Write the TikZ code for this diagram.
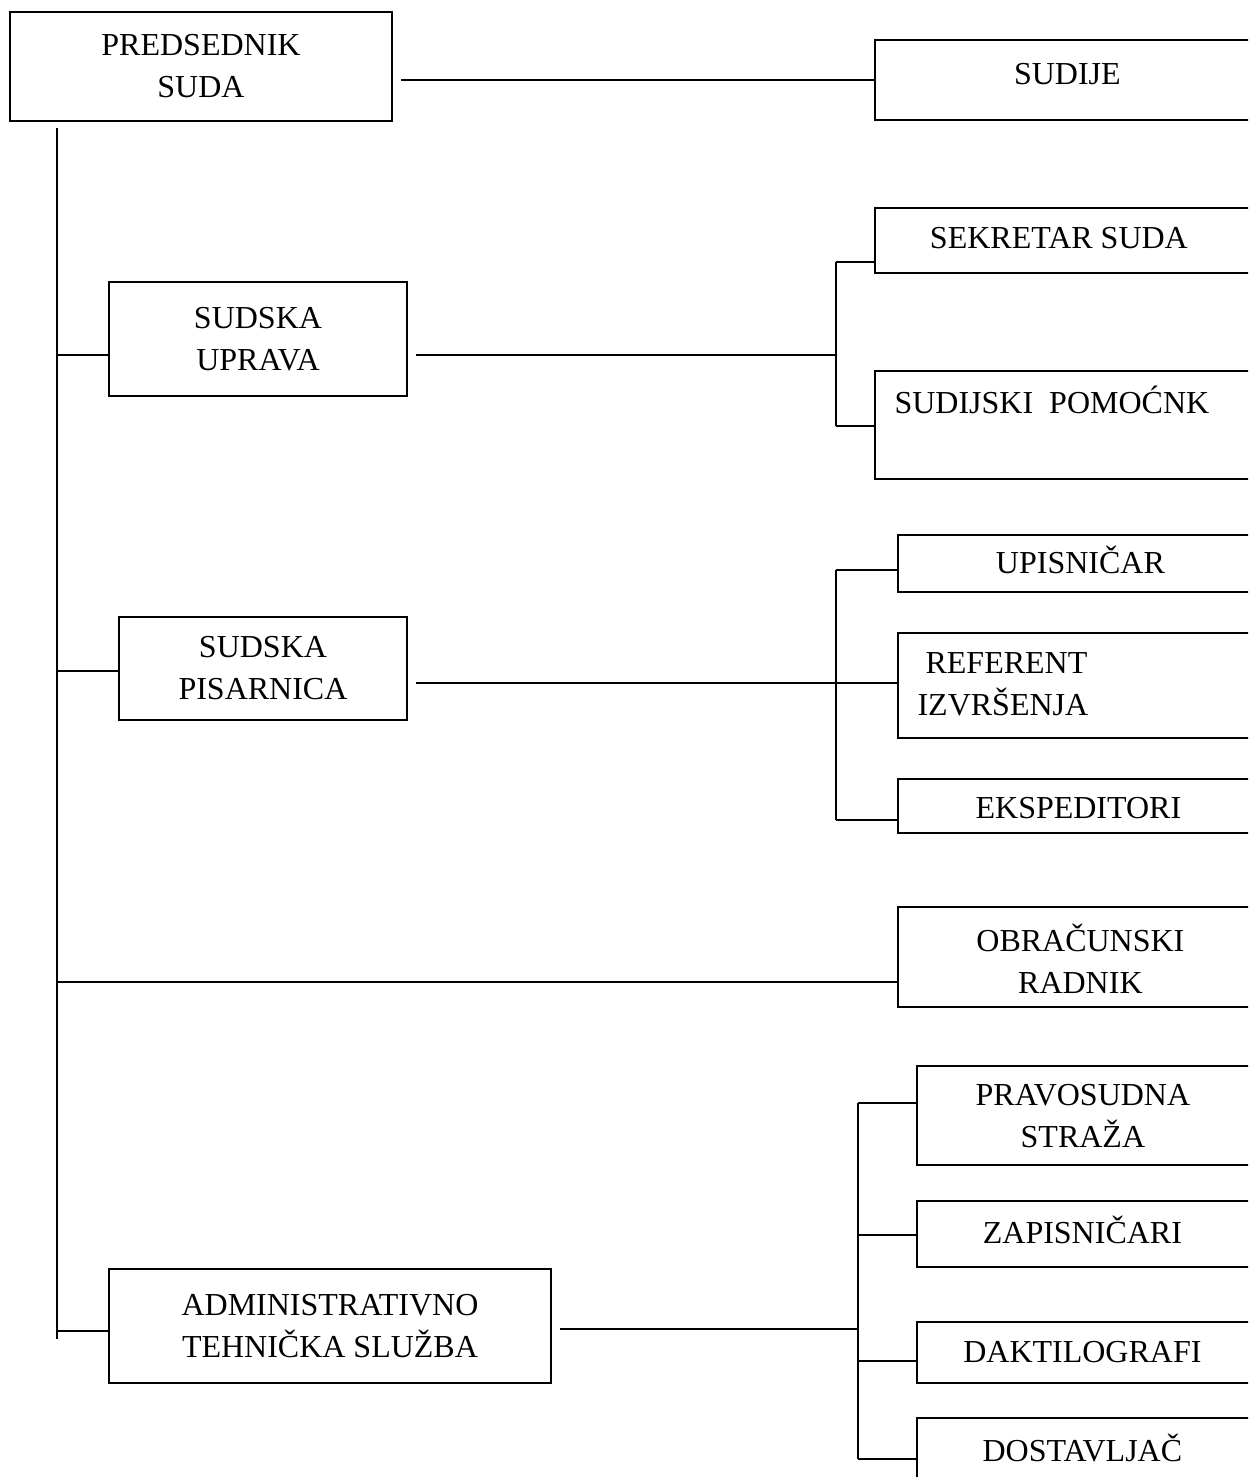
\documentclass[tikz,border=0pt]{standalone}
\usepackage{fontspec}
\setmainfont{Liberation Serif}
\usetikzlibrary{positioning}

\begin{document}
\begin{tikzpicture}[x=0.5pt,y=-0.5pt,line width=0.9pt,kutija/.style={draw,line width=0.9pt,align=center,inner sep=0pt,font=\fontsize{16}{21}\selectfont},desno/.style={draw,line width=0.9pt,anchor=west,minimum width=210pt,inner sep=0pt},natpis/.style={align=center,inner sep=0pt,font=\fontsize{16}{21}\selectfont}]
        \clip (0,0) rectangle (1248,1477);
        % levo
        \node[kutija,minimum width=191pt,minimum height=54.5pt](predsednik) at (201,66.5){PREDSEDNIK\\SUDA};
        \node[kutija,minimum width=149pt,minimum height=57pt](uprava) at (258,339){SUDSKA\\UPRAVA};
        \node[kutija,minimum width=144pt,minimum height=51.5pt](pisarnica) at (263,668.5){SUDSKA\\PISARNICA};
        \node[kutija,minimum width=221pt,minimum height=57pt](admin) at (330,1326){ADMINISTRATIVNO\\TEHNIČKA SLUŽBA};
        % desno
        \node[desno,minimum height=40pt,label={[natpis,xshift=-8.75pt,yshift=3pt]center:SUDIJE}](sudije) at (874,80){};
        \node[desno,minimum height=32.5pt,label={[natpis,xshift=-13pt,yshift=1.25pt]center:SEKRETAR SUDA}](sekretar) at (874,240.5){};
        \node[desno,minimum height=54pt,label={[natpis,xshift=-16.5pt,yshift=12.5pt]center:SUDIJSKI\ \ POMOĆNK}](pomocnik) at (874,425){};
        \node[desno,minimum height=28.5pt,label={[natpis,xshift=-13.75pt,yshift=1.75pt]center:UPISNIČAR}](upisnicar) at (897,563.5){};
        \node[desno,minimum height=52.5pt,label={[natpis,align=left,xshift=-52.5pt,yshift=0.75pt]center:\hspace*{4pt}REFERENT\\IZVRŠENJA}](referent) at (897,685.5){};
        \node[desno,minimum height=27pt,label={[natpis,xshift=-14.75pt,yshift=-1pt]center:EKSPEDITORI}](ekspeditori) at (897,806){};
        \node[desno,minimum height=50pt,label={[natpis,xshift=-13.75pt,yshift=-1pt]center:OBRAČUNSKI\\RADNIK}](obracunski) at (897,957){};
        \node[desno,minimum height=49.5pt,label={[natpis,xshift=-22pt,yshift=-0.5pt]center:PRAVOSUDNA\\STRAŽA}](straza) at (916,1115.5){};
        \node[desno,minimum height=33pt,label={[natpis,xshift=-22.25pt,yshift=2pt]center:ZAPISNIČARI}](zapisnicari) at (916,1234){};
        \node[desno,minimum height=30.5pt,label={[natpis,xshift=-22.25pt]center:DAKTILOGRAFI}](daktilografi) at (916,1352.5){};
        \node[desno,minimum height=40pt,label={[natpis,xshift=-22.25pt,yshift=5pt]center:DOSTAVLJAČ}](dostavljac) at (916,1458){};
        %
        \coordinate(vrh) at (57,128);
        \coordinate(dno) at (57,1339);
        \coordinate(t1) at (57,355);
        \coordinate(t2) at (57,671);
        \coordinate(t3) at (57,982);
        \coordinate(t4) at (57,1331);
        %
        \coordinate(g1) at (836,355);
        \coordinate(g1a) at (836,262);
        \coordinate(g1b) at (836,426);
        \coordinate(g2) at (836,683);
        \coordinate(g2a) at (836,570);
        \coordinate(g2b) at (836,820);
        \coordinate(g3) at (858,1329);
        \coordinate(g3a) at (858,1103);
        \coordinate(g3b) at (858,1235);
        \coordinate(g3c) at (858,1361);
        \coordinate(g3d) at (858,1459);
        %
        \draw[shorten <=4pt] (predsednik.east |- sudije.west) -- (sudije.west);
        \draw (vrh) -- (dno);
        \draw (t1) -- (t1 -| uprava.west);
        \draw (t2) -- (t2 -| pisarnica.west);
        \draw (t3) -- (t3 -| obracunski.west);
        \draw (t4) -- (t4 -| admin.west);
        %
        \draw[shorten <=4pt] (g1 -| uprava.east) -- (g1);
        \draw (g1a) -- (g1b);
        \draw (g1a) -- (g1a -| sekretar.west);
        \draw (g1b) -- (g1b -| pomocnik.west);
        %
        \draw[shorten <=4pt] (g2 -| pisarnica.east) -- (g2 -| referent.west);
        \draw (g2a) -- (g2b);
        \draw (g2a) -- (g2a -| upisnicar.west);
        \draw (g2b) -- (g2b -| ekspeditori.west);
        %
        \draw[shorten <=4pt] (g3 -| admin.east) -- (g3);
        \draw (g3a) -- (g3d);
        \draw (g3a) -- (g3a -| straza.west);
        \draw (g3b) -- (g3b -| zapisnicari.west);
        \draw (g3c) -- (g3c -| daktilografi.west);
        \draw (g3d) -- (g3d -| dostavljac.west);
\end{tikzpicture}
\end{document}
